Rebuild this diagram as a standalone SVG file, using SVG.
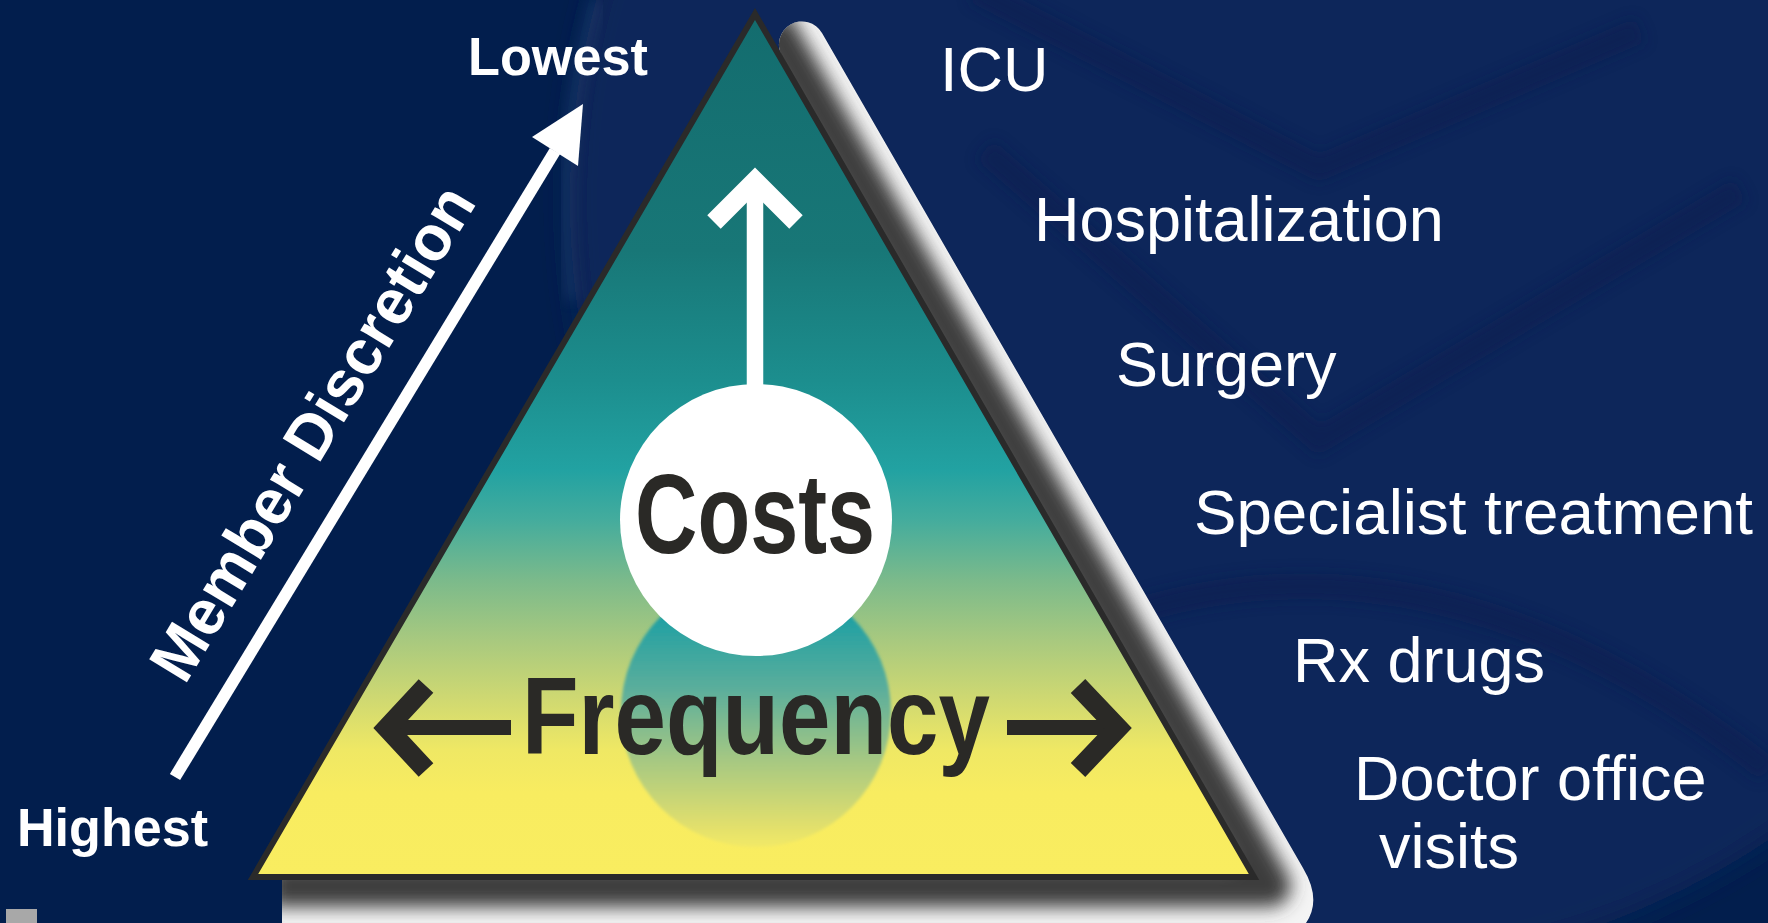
<svg xmlns="http://www.w3.org/2000/svg" width="1768" height="923" viewBox="0 0 1768 923">
  <defs>
    <style>
      .lbl { font-family: "Liberation Sans", Arial, sans-serif; fill: #ffffff; font-size: 63px; }
      .blbl { font-family: "Liberation Sans", Arial, sans-serif; fill: #ffffff; font-weight: bold; }
      .dark { font-family: "Liberation Sans", Arial, sans-serif; fill: #2a2926; font-weight: bold; }
      .chevW { fill: none; stroke: #ffffff; stroke-width: 19; stroke-linejoin: miter; stroke-linecap: butt; }
      .chevD { fill: none; stroke: #2a2926; stroke-width: 20; stroke-linejoin: miter; stroke-linecap: butt; }
    </style>
    <linearGradient id="triFill" gradientUnits="userSpaceOnUse" x1="0" y1="8" x2="0" y2="880">
      <stop offset="0" stop-color="#136c6e"/>
      <stop offset="0.278" stop-color="#187777"/>
      <stop offset="0.427" stop-color="#1c8e8e"/>
      <stop offset="0.53" stop-color="#22a2a2"/>
      <stop offset="0.587" stop-color="#44ac9d"/>
      <stop offset="0.656" stop-color="#7bba8b"/>
      <stop offset="0.725" stop-color="#a8c97f"/>
      <stop offset="0.794" stop-color="#d0d971"/>
      <stop offset="0.851" stop-color="#efe864"/>
      <stop offset="0.9" stop-color="#f8ec60"/>
      <stop offset="1" stop-color="#f9ed60"/>
    </linearGradient>
    <linearGradient id="lowFill" x1="0" y1="0" x2="0" y2="1">
      <stop offset="0.15" stop-color="#20a0a3"/>
      <stop offset="0.42" stop-color="#5cae9b"/>
      <stop offset="0.68" stop-color="#a6c882"/>
      <stop offset="0.9" stop-color="#dcdd6e"/>
      <stop offset="1" stop-color="#f2e966"/>
    </linearGradient>
    <filter id="blurShadow" x="-20%" y="-20%" width="140%" height="140%">
      <feGaussianBlur stdDeviation="9"/>
    </filter>
    <filter id="blur6" x="-20%" y="-20%" width="140%" height="140%">
      <feGaussianBlur stdDeviation="7"/>
    </filter>
    <filter id="blurBig" x="-20%" y="-20%" width="140%" height="140%">
      <feGaussianBlur stdDeviation="14"/>
    </filter>
    <filter id="blur2" x="-10%" y="-10%" width="120%" height="120%">
      <feGaussianBlur stdDeviation="1.5"/>
    </filter>
    <clipPath id="shadowClip">
      <path d="M 782,56 A 23 23 0 0 1 822,33 L 1303,868 Q 1322,900 1306,923 L 282,923 L 282,877 L 1254,877 Z"/>
    </clipPath>
    <clipPath id="triClip">
      <polygon points="755,14 253,877 1254,877"/>
    </clipPath>
  </defs>

  <!-- background -->
  <g id="background">
    <rect x="0" y="0" width="1768" height="923" fill="#021e4d"/>
    <circle cx="1340" cy="200" r="770" fill="#10285a" filter="url(#blurBig)"/>
    <path d="M 597,0 A 770 770 0 0 0 572,300" fill="none" stroke="#3a5584" stroke-width="10" opacity="0.4" filter="url(#blur6)"/>
    <g fill="none" stroke="#0a1f50" stroke-width="26" opacity="0.5" filter="url(#blur6)">
      <path d="M 975,-10 L 1319,168 L 1640,30"/>
      <path d="M 985,150 L 1319,440 L 1740,190"/>
      <path d="M 1140,610 Q 1450,520 1768,770"/>
    </g>
    <rect x="6" y="909" width="31" height="14" fill="#a8a8a8"/>
  </g>

  <!-- pyramid -->
  <g id="pyramid">
    <g clip-path="url(#shadowClip)">
      <rect x="250" y="0" width="1120" height="923" fill="#f4f4f4"/>
      <path d="M 770,22 L 1270,886 L 270,886" fill="none" stroke="#3e3e3e" stroke-width="42" stroke-linejoin="round" filter="url(#blurShadow)"/>
    </g>
    <polygon points="755,14 253,877 1254,877" fill="url(#triFill)"/>
    <g clip-path="url(#triClip)">
      <circle cx="756" cy="712" r="135" fill="url(#lowFill)" filter="url(#blur2)"/>
    </g>
    <polygon points="755,14 253,877 1254,877" fill="none" stroke="#2a2a2a" stroke-width="6" stroke-linejoin="miter"/>
  </g>

  <!-- connectors -->
  <g id="connectors">
    <line x1="175" y1="777" x2="555" y2="151" stroke="#ffffff" stroke-width="12"/>
    <polygon points="583,104 532,137 578,166" fill="#ffffff"/>
    <line x1="755" y1="386" x2="755" y2="186" stroke="#ffffff" stroke-width="16.5"/>
    <polyline class="chevW" points="714,222 755,181 796,222"/>
    <line x1="400" y1="727.5" x2="511" y2="727.5" stroke="#2a2926" stroke-width="15"/>
    <polyline class="chevD" points="426,686 387,728 426,770"/>
    <line x1="1007" y1="727.5" x2="1110" y2="727.5" stroke="#2a2926" stroke-width="15"/>
    <polyline class="chevD" points="1078,686 1118,728 1078,770"/>
  </g>

  <g id="costs">
    <circle cx="756" cy="520" r="136" fill="#ffffff"/>
    <text class="dark" x="635" y="553" font-size="114" textLength="240" lengthAdjust="spacingAndGlyphs">Costs</text>
  </g>

  <g id="frequency">
    <text class="dark" x="522" y="754" font-size="110" textLength="468" lengthAdjust="spacingAndGlyphs">Frequency</text>
  </g>

  <g id="axis-labels">
    <text class="blbl" x="468" y="75" font-size="54" textLength="180" lengthAdjust="spacingAndGlyphs">Lowest</text>
    <text class="blbl" x="17" y="846" font-size="54" textLength="191" lengthAdjust="spacingAndGlyphs">Highest</text>
    <text class="blbl" font-size="64" text-anchor="middle" transform="translate(331,444) rotate(-58.8)" textLength="565" lengthAdjust="spacingAndGlyphs">Member Discretion</text>
  </g>

  <g id="levels">
    <text class="lbl" x="940" y="91">ICU</text>
    <text class="lbl" x="1034" y="241">Hospitalization</text>
    <text class="lbl" x="1116" y="386">Surgery</text>
    <text class="lbl" x="1194" y="534" textLength="559" lengthAdjust="spacingAndGlyphs">Specialist treatment</text>
    <text class="lbl" x="1293" y="682">Rx drugs</text>
    <text class="lbl" x="1354" y="800">Doctor office</text>
    <text class="lbl" x="1379" y="868">visits</text>
  </g>
</svg>
